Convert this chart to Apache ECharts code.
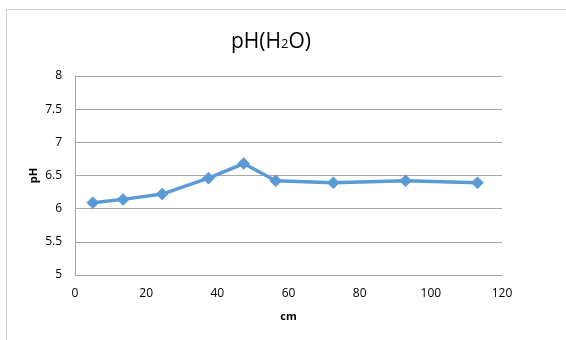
<!DOCTYPE html>
<html><head><meta charset="utf-8">
<script src="https://cdn.jsdelivr.net/npm/echarts@6/dist/echarts.min.js"></script>
<style>html,body{margin:0;padding:0;background:#fff}#c{width:566px;height:340px}</style>
</head><body><div id="c"></div>
<script>
const depthCm = [5, 13.5, 24.5, 37.5, 47.4, 56.4, 72.6, 92.9, 113.1];
const phValues = [6.09, 6.14, 6.22, 6.46, 6.68, 6.42, 6.39, 6.42, 6.39];
const xTicks = [0, 20, 40, 60, 80, 100, 120];
const yTicks = [5, 5.5, 6, 6.5, 7, 7.5, 8];
const titleParts = ['pH(H', '2', 'O)'];
const xName = 'cm';
const yName = 'pH';

const chart = echarts.init(document.getElementById('c'));
const font = '"Open Sans", "Liberation Sans", sans-serif';
chart.setOption({
  animation: false,
  backgroundColor: '#fff',
  graphic: [{
    type: 'rect', shape: {x: 6.5, y: 9.5, width: 700, height: 500},
    style: {fill: 'none', stroke: '#d0d0d0', lineWidth: 1}, silent: true
  }],
  title: {
    text: '{a|' + titleParts[0] + '}{s|' + titleParts[1] + '}{a|' + titleParts[2] + '}',
    left: 266, top: 27, textAlign: 'center',
    textStyle: {
      fontWeight: 'normal',
      rich: {
        a: {fontSize: 21, fontFamily: font, fontWeight: 'normal', color: '#000', verticalAlign: 'bottom'},
        s: {fontSize: 13, fontFamily: font, fontWeight: 'normal', color: '#000', verticalAlign: 'bottom', padding: [0,0,2,0]}
      }
    }
  },
  grid: {left: 75, right: 64, top: 76, bottom: 65},
  xAxis: {
    type: 'value', min: xTicks[0], max: xTicks[xTicks.length-1], interval: 20,
    name: xName, nameLocation: 'middle', nameGap: 36, nameMoveOverlap: false,
    nameTextStyle: {fontWeight: 'bold', fontSize: 11, fontFamily: font, color: '#000'},
    axisLine: {show: true, lineStyle: {color: '#a0a0a0'}},
    axisTick: {show: false},
    splitLine: {show: false},
    axisLabel: {fontSize: 12, fontFamily: font, color: '#000', margin: 13}
  },
  yAxis: {
    type: 'value', min: yTicks[0], max: yTicks[yTicks.length-1], interval: 0.5,
    name: yName, nameLocation: 'middle', nameGap: 36, nameRotate: 90, nameMoveOverlap: false,
    nameTextStyle: {fontWeight: 'bold', fontSize: 11, fontFamily: font, color: '#000'},
    axisLine: {show: true, lineStyle: {color: '#a0a0a0'}},
    axisTick: {show: false},
    splitLine: {show: true, lineStyle: {color: '#a6a6a6', width: 1}},
    axisLabel: {fontSize: 12, fontFamily: font, color: '#000', margin: 13}
  },
  series: [{
    type: 'line',
    data: depthCm.map((x, i) => [x, phValues[i]]),
    symbol: 'diamond', symbolSize: 12,
    lineStyle: {color: '#5B9BD5', width: 3.5},
    itemStyle: {color: '#5B9BD5', borderColor: '#4a89c8', borderWidth: 0.5}
  }]
});
</script></body></html>
